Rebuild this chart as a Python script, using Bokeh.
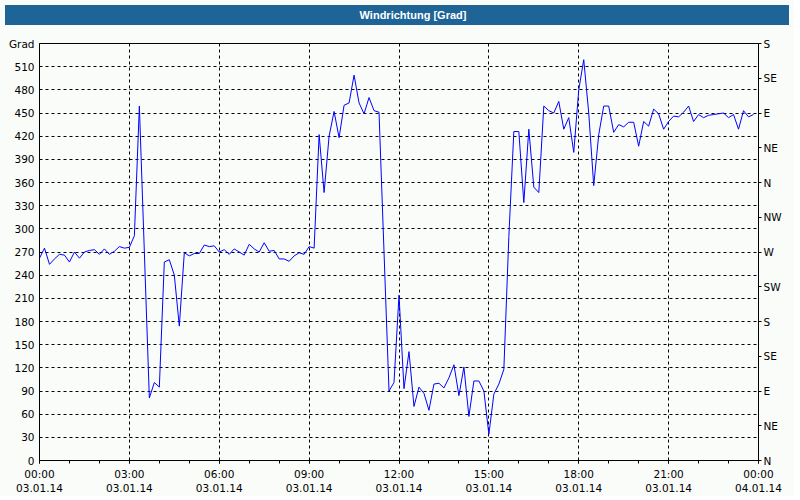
import pandas as pd
from bokeh.plotting import figure
from bokeh.models import (FixedTicker, LinearAxis, DatetimeTickFormatter, Range1d, Div)
from bokeh.layouts import column
from bokeh.embed import file_html
from bokeh.resources import INLINE

# ---- data (10-minute samples, 03.01.14 00:00 onwards) ----
direction = [
    262, 275, 254, 261, 267, 266, 257, 270, 262, 270, 272, 273, 267, 274, 267, 271, 277, 275,
    276, 291, 459, 270, 81, 101, 95, 257, 260, 240, 174, 269, 265, 268, 268, 279, 277, 278,
    270, 273, 267, 274, 270, 266, 280, 274, 270, 282, 271, 272, 261, 261, 258, 265, 269, 267,
    277, 275, 422, 347, 420, 452, 418, 460, 463, 499, 463, 449, 470, 453, 451, 270, 90, 101,
    214, 93, 141, 70, 95, 87, 65, 99, 100, 94, 107, 124, 84, 121, 57, 103, 103, 90,
    34, 86, 99, 118, 290, 426, 426, 334, 429, 354, 347, 459, 453, 450, 465, 429, 444, 399,
    480, 519, 450, 356, 422, 459, 459, 425, 435, 432, 438, 438, 407, 439, 433, 455, 449, 429,
    439, 446, 445, 451, 459, 439, 448, 444, 447, 448, 449, 450, 444, 448, 429, 453, 445, 448,
]
start_time = "2014-01-03 00:00"
end_time = "2014-01-04 00:00"
left_ticks = list(range(0, 511, 30))
right_ticks = list(range(0, 541, 45))
compass_labels = ["N", "NE", "E", "SE", "S", "SW", "W", "NW", "N", "NE", "E", "SE", "S"]
title_text = "Windrichtung [Grad]"
unit_label = "Grad"
unit_label_pos = 540

start = pd.Timestamp(start_time)
end = pd.Timestamp(end_time)
times = pd.date_range(start, periods=len(direction), freq="10min")


def ms(ts):
    return int(ts.value // 10**6)


major_x = [ms(start + pd.Timedelta(hours=h)) for h in range(0, 25, 3)]
minor_x = [ms(start + pd.Timedelta(hours=h)) for h in range(0, 25)]

BG = "#fafcfa"
FONT = "DejaVu Sans"
FS = "10.5px"

p = figure(width=784, height=466, x_axis_type="datetime",
           x_range=Range1d(ms(start), ms(end)), y_range=Range1d(0, 540),
           output_backend="svg", toolbar_location=None,
           min_border_left=39, min_border_right=25, min_border_top=13, min_border_bottom=34,
           background_fill_color=BG, border_fill_color=BG)

p.line(x=times, y=direction, line_color="#0000ff", line_width=1)

p.outline_line_color = "black"
p.outline_line_width = 1

# bottom axis
xa = p.xaxis[0]
xa.ticker = FixedTicker(ticks=major_x, minor_ticks=minor_x)
fmt = "%H:%M\n%d.%m.%y"
xa.formatter = DatetimeTickFormatter(minutes=fmt, hourmin=fmt, hours=fmt, days=fmt,
                                     months=fmt, years=fmt, strip_leading_zeros=False)
xa.major_tick_out = 3
xa.major_tick_in = 0
xa.minor_tick_out = 3
xa.minor_tick_in = 0
xa.major_label_standoff = 4

# left axis (unit name shown at the top end)
ya = p.yaxis[0]
ya.ticker = FixedTicker(ticks=left_ticks + [unit_label_pos])
ya.major_label_overrides = {unit_label_pos: unit_label}
ya.major_tick_out = 0
ya.major_tick_in = 0
ya.minor_tick_out = 0
ya.minor_tick_in = 0
ya.major_label_standoff = 5

# right axis (compass)
ra = LinearAxis(ticker=FixedTicker(ticks=right_ticks),
                major_label_overrides={t: c for t, c in zip(right_ticks, compass_labels)})
ra.major_tick_out = 3
ra.major_tick_in = 0
ra.minor_tick_out = 0
ra.minor_tick_in = 0
ra.major_label_standoff = 2
p.add_layout(ra, "right")

for ax in (xa, ya, ra):
    ax.axis_line_color = "black"
    ax.major_tick_line_color = "black"
    ax.minor_tick_line_color = "black"
    ax.major_label_text_font = FONT
    ax.major_label_text_font_size = FS
    ax.major_label_text_color = "black"

# grids
p.xgrid.ticker = FixedTicker(ticks=major_x)
p.ygrid.ticker = FixedTicker(ticks=left_ticks)
for g in (p.xgrid[0], p.ygrid[0]):
    g.grid_line_color = "black"
    g.grid_line_dash = "3 3"
    g.grid_line_width = 1

title = Div(text='<span style="position:relative;left:16px">' + title_text + '</span>',
            width=784, height=20,
            styles={"background-color": "#1e6496", "color": "white",
                    "font-family": "Liberation Sans", "font-weight": "bold",
                    "font-size": "11px", "text-align": "center", "line-height": "20px"})

layout = column(title, p, spacing=0, styles={"background-color": BG})

open("out.html", "w").write(file_html(layout, INLINE))
